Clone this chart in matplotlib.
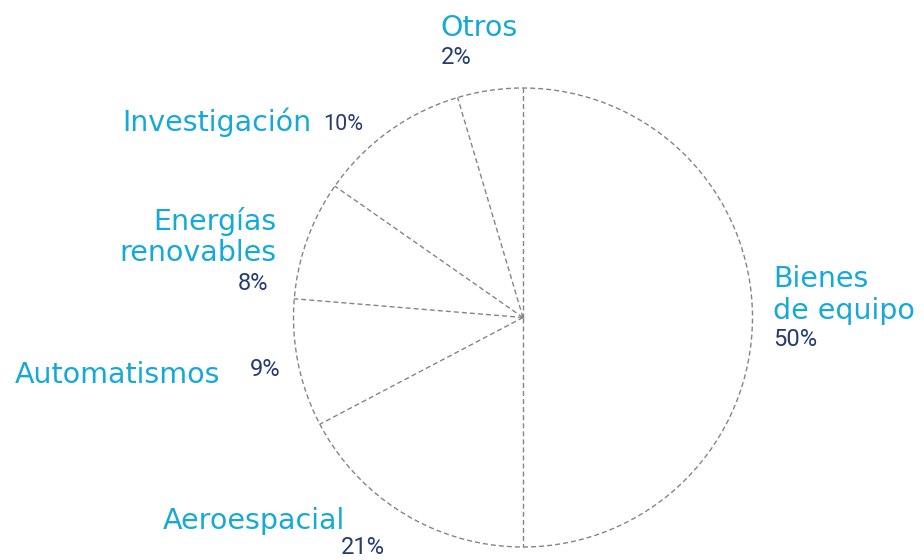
import numpy as np
import matplotlib.pyplot as plt
from matplotlib.patches import Circle

# shares as drawn (clockwise from the top), and the percentages printed next to them
sectors = ['Bienes\nde equipo', 'Aeroespacial', 'Automatismos',
           'Energías\nrenovables', 'Investigación', 'Otros']
shares = [50.0, 17.3, 9.0, 8.4, 10.7, 4.6]
pct_labels = ['50%', '21%', '9%', '8%', '10%', '2%']

NAME_COLOR = '#15a9da'
PCT_COLOR = '#253c73'
EDGE_COLOR = '#858585'
DASH = (0, (3.6, 2.2))

W, H = 924, 560
cx, cy, r = 523, H - 317.5, 229.5

fig = plt.figure(figsize=(W / 100, H / 100), dpi=100)
ax = fig.add_axes([0, 0, 1, 1])

# wedges themselves carry no edge: overlapping dashed edges would look solid
ax.pie(shares, center=(cx, cy), radius=r, startangle=90,
       counterclock=False, frame=True,
       wedgeprops=dict(fill=False, linewidth=0))
ax.add_patch(Circle((cx, cy), r, fill=False, edgecolor=EDGE_COLOR,
                    linewidth=1.0, linestyle=DASH))
bounds = 90 - 360 * np.cumsum([0] + shares[:-1]) / sum(shares)
for a in np.radians(bounds):
    ax.plot([cx, cx + r * np.cos(a)], [cy, cy + r * np.sin(a)],
            color=EDGE_COLOR, linewidth=1.0, linestyle=DASH)

ax.set_xlim(0, W)
ax.set_ylim(0, H)
ax.set_aspect('equal')
ax.axis('off')


def name(x, y, s, ha='left'):
    ax.text(x, H - y, s, color=NAME_COLOR, fontsize=20.5, ha=ha, va='center',
            family='DejaVu Sans', linespacing=1.15)


def pct(x, y, s, ha='left', size=17):
    ax.text(x, H - y, s, color=PCT_COLOR, fontsize=size, ha=ha, va='center',
            family='Roboto')


# label positions (image px), per sector
name(773, 295, sectors[0])
pct(773, 340, pct_labels[0])

name(163, 521, sectors[1])
pct(341, 548, pct_labels[1])

name(15, 375, sectors[2])
pct(250, 369, pct_labels[2])

name(277, 237, sectors[3], ha='right')
pct(268, 284, pct_labels[3], ha='right')

name(122, 122, sectors[4])
pct(323, 124, pct_labels[4], size=15.5)

name(479, 28, sectors[5], ha='center')
pct(441, 57, pct_labels[5])

fig.savefig('out.png', dpi=100, facecolor='white')
